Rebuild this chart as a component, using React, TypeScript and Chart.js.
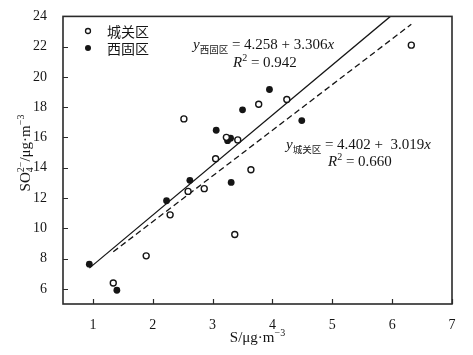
import React, { useEffect, useRef } from 'react';
import { Chart, registerables } from 'chart.js';

Chart.register(...registerables);

// 城关区 (open circles)
const chengguanX = [1.34, 1.89, 2.29, 2.52, 2.59, 2.86, 3.05, 3.23, 3.37, 3.42, 3.64, 3.77, 4.24, 6.32];
const chengguanY = [6.39, 8.18, 10.89, 17.23, 12.44, 12.62, 14.6, 16.01, 9.59, 15.84, 13.87, 18.2, 18.51, 22.1];
// 西固区 (filled circles)
const xiguX = [0.94, 1.4, 2.23, 2.62, 3.06, 3.25, 3.3, 3.31, 3.5, 3.95, 4.49];
const xiguY = [7.63, 5.91, 11.82, 13.17, 16.48, 15.79, 15.95, 13.03, 17.83, 19.17, 17.12];
// regression lines endpoints
const xiguFitX = [0.94, 5.97];
const xiguFitY = [7.37, 24.0];
const chengguanFitX = [1.34, 6.32];
const chengguanFitY = [8.45, 23.48];

const xTicks = [1, 2, 3, 4, 5, 6, 7];
const yTicks = [6, 8, 10, 12, 14, 16, 18, 20, 22, 24];

const serif = '"Liberation Serif", "Times New Roman", serif';
const cjk = '"Noto Sans CJK SC", sans-serif';
const INK = '#151515';

type Part = { t: string; size: number; dy?: number; italic?: boolean; family?: string; stack?: boolean };

function drawParts(ctx: CanvasRenderingContext2D, parts: Part[], x: number, y: number, doDraw = true): number {
  let cx = x;
  let prevStart = x;
  let prevW = 0;
  for (const p of parts) {
    ctx.font = `${p.italic ? 'italic ' : ''}${p.size}px ${p.family || serif}`;
    const w = ctx.measureText(p.t).width;
    if (p.stack) {
      if (doDraw) ctx.fillText(p.t, prevStart, y + (p.dy || 0));
      cx = prevStart + Math.max(prevW, w);
    } else {
      if (doDraw) ctx.fillText(p.t, cx, y + (p.dy || 0));
      prevStart = cx;
      prevW = w;
      cx += w;
    }
  }
  return cx - x;
}

export default function App() {
  const ref = useRef<HTMLCanvasElement>(null);

  useEffect(() => {
    const canvas = ref.current!;
    const decor = {
      id: 'decor',
      afterDraw(chart: any) {
        const ctx: CanvasRenderingContext2D = chart.ctx;
        const { left, right, top, bottom } = chart.chartArea;
        const xs = chart.scales.x;
        const ys = chart.scales.y;
        ctx.save();
        ctx.strokeStyle = '#2a2a2a';
        ctx.lineWidth = 1.6;
        ctx.strokeRect(left, top, right - left, bottom - top);
        ctx.lineWidth = 1.2;
        ctx.beginPath();
        for (const v of yTicks) {
          const py = Math.round(ys.getPixelForValue(v)) + 0.5;
          ctx.moveTo(left, py);
          ctx.lineTo(left + 5, py);
        }
        for (const v of xTicks) {
          const px = Math.round(xs.getPixelForValue(v)) + 0.5;
          ctx.moveTo(px, bottom);
          ctx.lineTo(px, bottom - 5);
        }
        ctx.stroke();

        ctx.fillStyle = INK;
        ctx.textBaseline = 'alphabetic';
        ctx.textAlign = 'left';

        // x title
        const xt: Part[] = [
          { t: 'S/μg·m', size: 15 },
          { t: '−3', size: 10, dy: -6 },
        ];
        const xw = drawParts(ctx, xt, 0, 0, false);
        drawParts(ctx, xt, (left + right) / 2 - xw / 2, 342);

        // y title
        const yt: Part[] = [
          { t: 'SO', size: 15 },
          { t: '4', size: 10, dy: 3 },
          { t: '2−', size: 10, dy: -6, stack: true },
          { t: '/μg·m', size: 15 },
          { t: '−3', size: 10, dy: -6 },
        ];
        const yw = drawParts(ctx, yt, 0, 0, false);
        ctx.save();
        ctx.translate(30, 153);
        ctx.rotate(-Math.PI / 2);
        drawParts(ctx, yt, -yw / 2, 0);
        ctx.restore();

        // legend
        ctx.beginPath();
        ctx.arc(88, 31, 2.5, 0, Math.PI * 2);
        ctx.fillStyle = '#fff';
        ctx.fill();
        ctx.strokeStyle = INK;
        ctx.lineWidth = 1.3;
        ctx.stroke();
        ctx.beginPath();
        ctx.arc(88, 48, 3, 0, Math.PI * 2);
        ctx.fillStyle = INK;
        ctx.fill();
        ctx.font = `14px ${cjk}`;
        ctx.textBaseline = 'middle';
        ctx.fillText('城关区', 107, 32);
        ctx.fillText('西固区', 107, 49);
        ctx.textBaseline = 'alphabetic';

        // equation 西固区
        drawParts(ctx, [
          { t: 'y', size: 15, italic: true },
          { t: '西固区', size: 9.5, dy: 4, family: cjk },
          { t: ' = 4.258 + 3.306', size: 15 },
          { t: 'x', size: 15, italic: true },
        ], 193, 49);
        drawParts(ctx, [
          { t: 'R', size: 15, italic: true },
          { t: '2', size: 10, dy: -6 },
          { t: ' = 0.942', size: 15 },
        ], 233, 67);

        // equation 城关区
        drawParts(ctx, [
          { t: 'y', size: 15, italic: true },
          { t: '城关区', size: 9.5, dy: 4, family: cjk },
          { t: ' = 4.402 +  3.019', size: 15 },
          { t: 'x', size: 15, italic: true },
        ], 286, 149);
        drawParts(ctx, [
          { t: 'R', size: 15, italic: true },
          { t: '2', size: 10, dy: -6 },
          { t: ' = 0.660', size: 15 },
        ], 328, 166);
        ctx.restore();
      },
    };

    const chart = new Chart(canvas, {
      type: 'scatter',
      data: {
        datasets: [
          {
            label: '城关区',
            data: chengguanX.map((x, i) => ({ x, y: chengguanY[i] })),
            pointRadius: 3,
            pointBackgroundColor: '#ffffff',
            pointBorderColor: INK,
            pointBorderWidth: 1.4,
          },
          {
            label: '西固区',
            data: xiguX.map((x, i) => ({ x, y: xiguY[i] })),
            pointRadius: 3.4,
            pointBackgroundColor: INK,
            pointBorderColor: INK,
            pointBorderWidth: 0,
          },
          {
            label: 'fit西固区',
            data: xiguFitX.map((x, i) => ({ x, y: xiguFitY[i] })),
            showLine: true,
            pointRadius: 0,
            borderColor: INK,
            borderWidth: 1.3,
            clip: 0,
          } as any,
          {
            label: 'fit城关区',
            data: chengguanFitX.map((x, i) => ({ x, y: chengguanFitY[i] })),
            showLine: true,
            pointRadius: 0,
            borderColor: INK,
            borderWidth: 1.3,
            borderDash: [6, 3.5],
            clip: 0,
          } as any,
        ],
      },
      options: {
        animation: false,
        responsive: false,
        events: [],
        layout: { padding: { left: 0, top: 16, right: 21, bottom: 0 } },
        plugins: { legend: { display: false }, tooltip: { enabled: false } },
        scales: {
          x: {
            type: 'linear',
            min: 0.5,
            max: 7,
            grid: { display: false },
            border: { display: false },
            afterBuildTicks: (s: any) => {
              s.ticks = xTicks.map((v) => ({ value: v }));
            },
            afterFit: (s: any) => {
              s.height = 51;
            },
            ticks: {
              padding: 5,
              color: INK,
              font: { family: serif, size: 14 },
              maxRotation: 0,
              autoSkip: false,
              callback: (v: any) => String(v),
            },
          },
          y: {
            type: 'linear',
            min: 5,
            max: 24,
            grid: { display: false },
            border: { display: false },
            afterBuildTicks: (s: any) => {
              s.ticks = yTicks.map((v) => ({ value: v }));
            },
            afterFit: (s: any) => {
              s.width = 63;
            },
            ticks: {
              padding: 8,
              color: INK,
              font: { family: serif, size: 14 },
              autoSkip: false,
              callback: (v: any) => String(v),
            },
          },
        },
      },
      plugins: [decor],
    });
    return () => chart.destroy();
  }, []);

  return (
    <div style={{ position: 'fixed', left: 0, top: 0, width: 473, height: 355, background: '#fff' }}>
      <canvas ref={ref} width={473} height={355} style={{ display: 'block' }} />
    </div>
  );
}
